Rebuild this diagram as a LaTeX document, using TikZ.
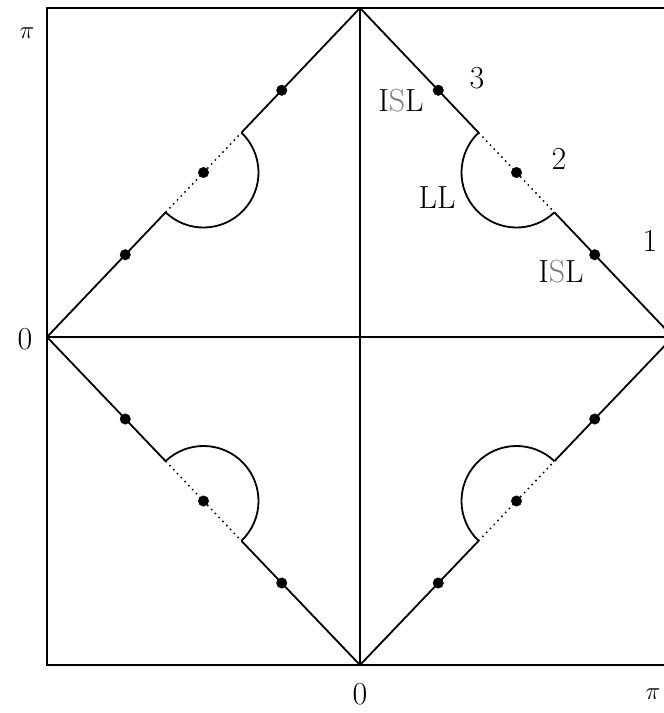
\documentclass[tikz,border=0pt]{standalone}
\usetikzlibrary{calc}
\begin{document}
\begin{tikzpicture}[x=1pt,y=1pt,
  frame/.style={line width=2pt},
  edge/.style={line width=1.8pt},
  dotseg/.style={line width=1.5pt, dash pattern=on 1.5pt off 4pt},
  pt/.style={circle, fill=black, draw=black, inner sep=0pt, minimum size=10.5pt},
  lab/.style={font=\fontsize{32}{38}\selectfont, inner sep=0pt}]
\useasboundingbox (0,0) rectangle (664,-713);
\begin{scope}
\clip (0,0) rectangle (664,-713);
\coordinate (NW) at (47,-8);
\coordinate (SE) at (673,-665);
\coordinate (T) at (360,-8);
\coordinate (B) at (360,-665);
\coordinate (L) at (47,-337);
\coordinate (R) at (673,-337);
\draw[frame] (NW) rectangle (SE);
\draw[edge] (T) -- (B);
\draw[edge] (L) -- (R);
\foreach \A/\B/\th/\s [count=\k] in {T/R/-46.43/1, L/T/46.43/1, L/B/-46.43/-1, B/R/46.43/-1}{
  \coordinate (P\k) at ($(\A)!0.5!(\B)$);
  \coordinate (E\k a) at ($(P\k)+({\th+180}:55)$);
  \coordinate (E\k b) at ($(P\k)+(\th:55)$);
  \draw[edge] (\A) -- (E\k a);
  \draw[edge] (E\k b) -- (\B);
  \draw[dotseg] (E\k a) -- (E\k b);
  \draw[edge] (E\k a) arc[start angle={\th+180}, delta angle={\s*180}, radius=55];
  \node[pt] (d\k a) at ($(\A)!0.25!(\B)$) {};
  \node[pt] (d\k b) at (P\k) {};
  \node[pt] (d\k c) at ($(\A)!0.75!(\B)$) {};
}
\end{scope}
\node[lab] (piy) at (27,-33) {$\pi$};
\node[lab] (zy) at (25,-339) {0};
\node[lab] (zx) at (360,-694) {0};
\node[lab] (pix) at (653,-694) {$\pi$};
\node[lab] (n3) at (477,-78) {3};
\node[lab] (n2) at (559,-159) {2};
\node[lab] (n1) at (650,-241) {1};
\node[lab] (isl1) at (401,-101) {I{\color{black!50}S}L};
\node[lab] (ll) at (437,-198) {LL};
\node[lab] (isl2) at (561,-272) {I{\color{black!50}S}L};
\end{tikzpicture}
\end{document}
